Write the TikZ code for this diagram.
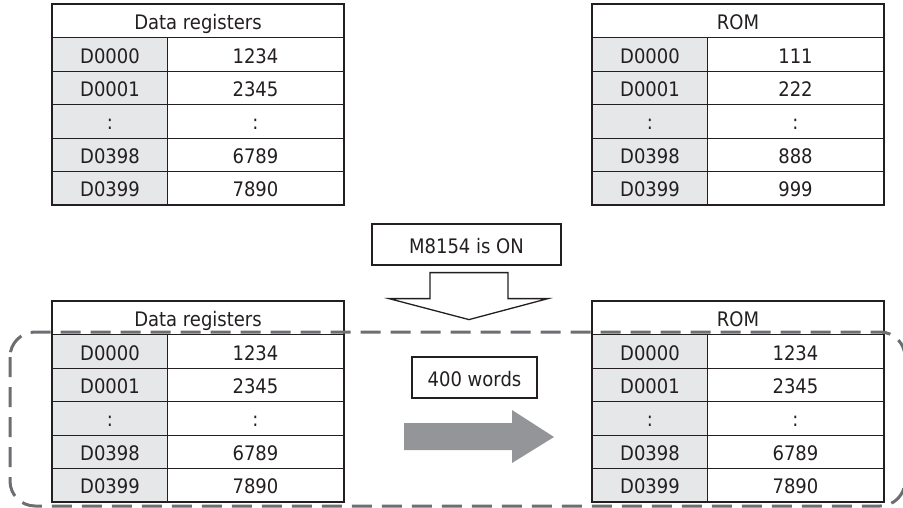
\documentclass[tikz,border=0pt]{standalone}
\usepackage{fontspec}
\setmainfont{DejaVu Sans Condensed}
\usepackage{tikz}
\usepackage{xcolor}
\definecolor{ink}{HTML}{231f20}
\definecolor{cellgray}{HTML}{e6e7e8}
\definecolor{dashgray}{HTML}{6d6e71}
\definecolor{arrowgray}{HTML}{939598}

\begin{document}
\begin{tikzpicture}[x=1pt, y=-1pt,
        every node/.style={font=\fontsize{20}{24}\selectfont, text=ink},
        headcell/.style={draw=ink, line width=1pt, anchor=north west, minimum width=291pt, minimum height=33.4pt, inner sep=0pt, text height=18pt, text depth=1pt},
        addrcell/.style={headcell, fill=cellgray, minimum width=115pt},
        valcell/.style={headcell, minimum width=176pt},
        labelbox/.style={draw=ink, line width=1.2pt, minimum height=41pt, inner sep=0pt, text height=18pt, text depth=1pt},
        frame/.style={draw=ink, line width=1.8pt},
        blockarrow/.style={draw=ink, fill=white, line width=1.3pt},
        copyarrow/.style={fill=arrowgray},
        group/.style={draw=dashgray, line width=3pt, dash pattern=on 20pt off 10pt, rounded corners=25pt}]
        \useasboundingbox (0,0) rectangle (903,508);

        % register tables
        \foreach \tx/\ty/\title/\tag/\vals in {
            52/4/{Data registers}/regs/{D0000/1234,D0001/2345,:/:,D0398/6789,D0399/7890},
            592/4/ROM/rom/{D0000/111,D0001/222,:/:,D0398/888,D0399/999},
            52/301/{Data registers}/regsafter/{D0000/1234,D0001/2345,:/:,D0398/6789,D0399/7890},
            592/301/ROM/romafter/{D0000/1234,D0001/2345,:/:,D0398/6789,D0399/7890}}
        {
            \node[headcell] (\tag-h) at (\tx,\ty) {\title};
            \foreach \addr/\val [count=\i] in \vals {
                \node[addrcell] (\tag-a\i) at (\tx,\ty+33.4*\i) {\addr};
                \node[valcell] (\tag-v\i) at (\tx+115,\ty+33.4*\i) {\val};
            }
            \draw[frame] (\tag-h.north west) rectangle (\tag-v5.south east);
        }

        \node[labelbox, minimum width=189pt] (trigger) at (466.5,244.5) {M8154 is ON};
        \node[labelbox, minimum width=125pt] (count) at (474.5,377.5) {400 words};

        \draw[blockarrow] ([xshift=-36.5pt,yshift=-7pt]trigger.south) -- ++(0,26) -- ++(-41,0)
            -- ++(80,21) -- ++(79,-21) -- ++(-40,0) -- ++(0,-26) -- cycle;
        \fill[copyarrow] ([xshift=-70.5pt,yshift=-45.5pt]count.center) -- ++(108,0) -- ++(0,-13)
            -- ++(42,27) -- ++(-42,26) -- ++(0,-13) -- ++(-108,0) -- cycle;

        \draw[group] (10,332) rectangle (905,506);
      \end{tikzpicture}
\end{document}
